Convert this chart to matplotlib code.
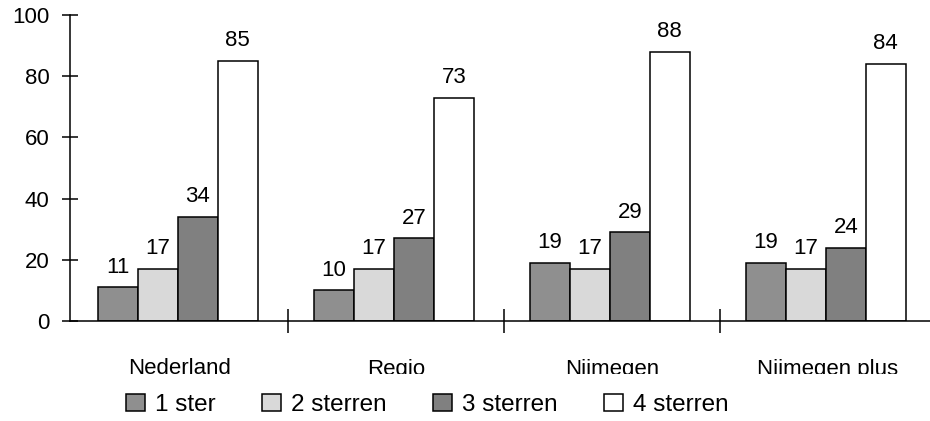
import matplotlib
matplotlib.use("Agg")
import matplotlib.pyplot as plt
import numpy as np
from matplotlib.patches import Patch, Rectangle

plt.rcParams['font.family'] = ['Liberation Sans', 'DejaVu Sans']

categories = ["Nederland", "Regio", "Nijmegen", "Nijmegen plus"]
series_names = ["1 ster", "2 sterren", "3 sterren", "4 sterren"]
ster1 = [11, 10, 19, 19]
ster2 = [17, 17, 17, 17]
ster3 = [34, 27, 29, 24]
ster4 = [85, 73, 88, 84]
y_ticks = [0, 20, 40, 60, 80, 100]

series = [ster1, ster2, ster3, ster4]
colors = ["#8f8f8f", "#d9d9d9", "#808080", "#ffffff"]

W, H = 930, 421
fig = plt.figure(figsize=(W / 100, H / 100), dpi=100)
ax = fig.add_axes([70 / W, 1 - 321 / H, 1 - 70 / W, (321 - 15) / H])

x = np.arange(len(categories))
w = 0.185
offsets = (np.arange(4) - 1.5) * w - 0.01
for vals, off, col in zip(series, offsets, colors):
    bars = ax.bar(x + off, vals, width=w, color=col, edgecolor="black",
                  linewidth=1.1, zorder=2)
    for b, v in zip(bars, vals):
        ax.annotate(f"{v}", (b.get_x() + b.get_width() / 2, v),
                    xytext=(0, 7), textcoords="offset points",
                    ha="center", va="bottom", fontsize=16)

ax.set_xlim(-0.509, 3.472)
ax.set_ylim(0, 100)
ax.set_yticks(y_ticks)
ax.tick_params(axis="y", direction="inout", length=11.5, width=1.1,
               labelsize=16, pad=9)

ax.set_xticks(x)
ax.set_xticklabels(categories, fontsize=16)
ax.tick_params(axis="x", which="major", length=0, pad=27)
ax.set_xticks(np.arange(0.5, 3.0, 1.0), minor=True)
ax.tick_params(axis="x", which="minor", direction="inout", length=17, width=1.1)

for s in ["top", "right"]:
    ax.spines[s].set_visible(False)
for s in ["left", "bottom"]:
    ax.spines[s].set_linewidth(1.1)

# white band under the category labels, the legend sits on top of it
fig.add_artist(Rectangle((0, 0), 1, 1 - 374 / H, transform=fig.transFigure,
                         facecolor="white", edgecolor="none", zorder=1))

handles = [Patch(facecolor=c, edgecolor="black", linewidth=1.1) for c in colors]
fig.legend(handles, series_names, loc="lower left",
           bbox_to_anchor=(126 / W, 0.012), ncol=4, frameon=False,
           fontsize=17.5, handlelength=0.8, handleheight=0.7,
           handletextpad=0.4, columnspacing=1.9, borderaxespad=0,
           borderpad=0)

fig.savefig("out.png", dpi=100)
